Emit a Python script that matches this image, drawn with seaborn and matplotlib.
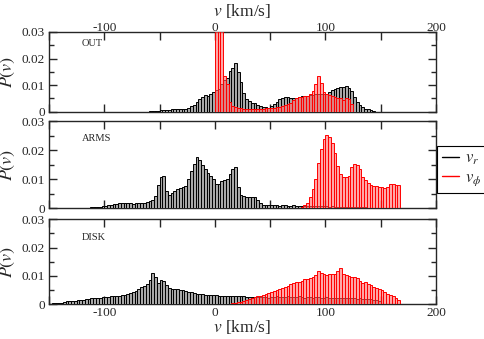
import numpy as np
import pandas as pd
import matplotlib
matplotlib.use("Agg")
import matplotlib.pyplot as plt
from matplotlib.lines import Line2D
from matplotlib.ticker import MultipleLocator, FuncFormatter
import seaborn as sns

# ---------------- data (bin width 2.5 km/s, values listed from a start velocity = left bin edge)
BIN = 2.5
panel_names = ["OUT", "ARMS", "DISK"]
legend_labels = [r"$v_r$", r"$v_\phi$"]
x_ticks = [-100, 0, 100, 200]
y_ticks = [0, 0.01, 0.02, 0.03]

vr_out_start = -60
vr_out = [0.0003, 0.0003, 0.0004, 0.0004, 0.0005, 0.0006, 0.0007, 0.0008, 0.0009, 0.0009,
          0.0010, 0.0010, 0.0011, 0.0012, 0.0015, 0.0020, 0.0027, 0.0037, 0.0048, 0.0057,
          0.0062, 0.0058, 0.0065, 0.0075, 0.0081, 0.0085, 0.0105, 0.0120, 0.0128, 0.0155,
          0.0165, 0.0184, 0.0148, 0.0112, 0.0070, 0.0048, 0.0040, 0.0034, 0.0031, 0.0027,
          0.0022, 0.0019, 0.0017, 0.0015, 0.0022, 0.0028, 0.0038, 0.0047, 0.0052, 0.0055,
          0.0055, 0.0053, 0.0051, 0.0052, 0.0056, 0.0058, 0.0058, 0.0059, 0.0061, 0.0063,
          0.0066, 0.0067, 0.0066, 0.0065, 0.0067, 0.0073, 0.0080, 0.0087, 0.0091, 0.0093,
          0.0094, 0.0095, 0.0090, 0.0078, 0.0055, 0.0035, 0.0025, 0.0017, 0.0012, 0.0009,
          0.0006, 0.0003]

vphi_out_start = 0
vphi_out = [0.060, 0.070, 0.045, 0.0135, 0.0105, 0.0035, 0.0022, 0.0018, 0.0015, 0.0013,
            0.0012, 0.0011, 0.0010, 0.0010, 0.0009, 0.0010, 0.0011, 0.0012, 0.0013, 0.0013,
            0.0014, 0.0015, 0.0016, 0.0018, 0.0022, 0.0026, 0.0030, 0.0034, 0.0043, 0.0050,
            0.0054, 0.0056, 0.0058, 0.0060, 0.0068, 0.0078, 0.0105, 0.0133, 0.0108, 0.0076,
            0.0065, 0.0063, 0.0058, 0.0057, 0.0052, 0.0050, 0.0045, 0.0050, 0.0048, 0.0030]

vr_arms_start = -115
vr_arms = [0.0002, 0.0003, 0.0004, 0.0005, 0.0006, 0.0007, 0.0009, 0.0011, 0.0013, 0.0015,
           0.0016, 0.0017, 0.0017, 0.0017, 0.0017, 0.0017, 0.0016, 0.0017, 0.0018, 0.0019,
           0.0020, 0.0022, 0.0025, 0.0030, 0.0042, 0.0082, 0.0108, 0.0110, 0.0060, 0.0045,
           0.0052, 0.0060, 0.0066, 0.0070, 0.0073, 0.0076, 0.0102, 0.0128, 0.0152, 0.0178,
           0.0168, 0.0150, 0.0135, 0.0122, 0.0110, 0.0100, 0.0085, 0.0085, 0.0093, 0.0096,
           0.0101, 0.0117, 0.0135, 0.0142, 0.0075, 0.0045, 0.0042, 0.0040, 0.0038, 0.0040,
           0.0038, 0.0030, 0.0020, 0.0013, 0.0011, 0.0010, 0.0010, 0.0010, 0.0010, 0.0009,
           0.0010, 0.0010, 0.0009, 0.0009, 0.0010, 0.0009, 0.0009, 0.0008, 0.0009, 0.0008,
           0.0008, 0.0009, 0.0008, 0.0008, 0.0007, 0.0008, 0.0007, 0.0006, 0.0007, 0.0006,
           0.0006, 0.0005, 0.0006, 0.0005, 0.0005, 0.0004, 0.0004, 0.0004, 0.0003, 0.0003,
           0.0003, 0.0002, 0.0002, 0.0001]

vphi_arms_start = 75
vphi_arms = [0.0002, 0.0005, 0.0010, 0.0020, 0.0040, 0.0065, 0.0100, 0.0155, 0.0205, 0.0240,
             0.0252, 0.0245, 0.0225, 0.0190, 0.0145, 0.0120, 0.0108, 0.0107, 0.0112, 0.0142,
             0.0153, 0.0150, 0.0135, 0.0108, 0.0098, 0.0088, 0.0080, 0.0078, 0.0078, 0.0072,
             0.0072, 0.0070, 0.0072, 0.0083, 0.0083, 0.0082, 0.0082]

vr_disk_start = -150
vr_disk = [0.0002, 0.0003, 0.0004, 0.0005, 0.0006, 0.0008, 0.0010, 0.0012, 0.0013, 0.0013,
           0.0014, 0.0015, 0.0015, 0.0018, 0.0018, 0.0022, 0.0024, 0.0024, 0.0024, 0.0026,
           0.0027, 0.0026, 0.0028, 0.0030, 0.0030, 0.0031, 0.0033, 0.0034, 0.0036, 0.0040,
           0.0045, 0.0048, 0.0053, 0.0060, 0.0066, 0.0072, 0.0086, 0.0109, 0.0098, 0.0075,
           0.0087, 0.0081, 0.0069, 0.0058, 0.0054, 0.0054, 0.0055, 0.0052, 0.0050, 0.0048,
           0.0045, 0.0042, 0.0040, 0.0038, 0.0036, 0.0035, 0.0034, 0.0033, 0.0032, 0.0033,
           0.0032, 0.0031, 0.0030, 0.0031, 0.0030, 0.0029, 0.0030, 0.0031, 0.0030, 0.0029,
           0.0028, 0.0027, 0.0027, 0.0026, 0.0027, 0.0026, 0.0027, 0.0025, 0.0026, 0.0024,
           0.0026, 0.0027, 0.0028, 0.0026, 0.0025, 0.0027, 0.0029, 0.0026, 0.0025, 0.0026,
           0.0028, 0.0026, 0.0024, 0.0025, 0.0026, 0.0024, 0.0025, 0.0026, 0.0024, 0.0023,
           0.0025, 0.0024, 0.0023, 0.0024, 0.0023, 0.0022, 0.0023, 0.0022, 0.0021, 0.0022,
           0.0021, 0.0020, 0.0021, 0.0020, 0.0019, 0.0018, 0.0017, 0.0016, 0.0015, 0.0013]

vphi_disk_start = 15
vphi_disk = [0.0003, 0.0005, 0.0007, 0.0009, 0.0012, 0.0015, 0.0018, 0.0021, 0.0025, 0.0028,
             0.0031, 0.0034, 0.0037, 0.0040, 0.0043, 0.0047, 0.0051, 0.0055, 0.0058, 0.0061,
             0.0066, 0.0070, 0.0074, 0.0077, 0.0079, 0.0082, 0.0088, 0.0091, 0.0093, 0.0096,
             0.0104, 0.0116, 0.0110, 0.0106, 0.0105, 0.0106, 0.0106, 0.0108, 0.0118, 0.0127,
             0.0108, 0.0102, 0.0100, 0.0098, 0.0096, 0.0093, 0.0082, 0.0074, 0.0080, 0.0073,
             0.0067, 0.0062, 0.0057, 0.0053, 0.0049, 0.0045, 0.0037, 0.0033, 0.0028, 0.0024,
             0.0015]

panels = [
    (vr_out_start, vr_out, vphi_out_start, vphi_out),
    (vr_arms_start, vr_arms, vphi_arms_start, vphi_arms),
    (vr_disk_start, vr_disk, vphi_disk_start, vphi_disk),
]

# ---------------- style
sns.set_style("ticks")
plt.rcParams["font.family"] = ["Liberation Serif", "DejaVu Serif"]
plt.rcParams["mathtext.fontset"] = "stix"
plt.rcParams["axes.unicode_minus"] = False
plt.rcParams["axes.linewidth"] = 1.0

W, H = 485, 339
fig = plt.figure(figsize=(W / 100, H / 100), dpi=100)

left_px, right_px = 49, 436
rows_px = [(32, 111.7), (121.3, 208.3), (219.3, 304.3)]

XMIN, XMAX = -150, 200
BLACK_FACE = "#a8a8a8"
RED_FACE = (1.0, 0.42, 0.42, 0.6)


def hist_frame(start, vals):
    vals = np.asarray(vals, dtype=float)
    centers = start + BIN / 2 + BIN * np.arange(len(vals))
    return pd.DataFrame({"v": centers, "w": vals})


axes = []
for i, (rstart, rvals, pstart, pvals) in enumerate(panels):
    top, bot = rows_px[i]
    ax = fig.add_axes([left_px / W, 1 - bot / H, (right_px - left_px) / W, (bot - top) / H])
    axes.append(ax)

    # v_r histogram
    df_r = hist_frame(rstart, rvals)
    sns.histplot(data=df_r, x="v", weights="w", binwidth=BIN,
                 binrange=(rstart, rstart + BIN * len(rvals)),
                 ax=ax, element="bars", stat="count", facecolor=BLACK_FACE,
                 edgecolor="black", linewidth=0.7, zorder=3)

    # v_phi histogram (range 0..200; empty bins drawn as a flat line)
    nfull = int(round(XMAX / BIN))
    full_vals = np.zeros(nfull)
    k0 = int(round(pstart / BIN))
    full_vals[k0:k0 + len(pvals)] = pvals
    df_p = hist_frame(0, full_vals)
    sns.histplot(data=df_p, x="v", weights="w", binwidth=BIN, binrange=(0, XMAX),
                 ax=ax, element="bars", stat="count", facecolor=RED_FACE,
                 edgecolor="red", linewidth=0.7, zorder=4)

    ax.set_xlim(XMIN, XMAX)
    ax.set_ylim(0, 0.03)
    ax.set_yticks(y_ticks)
    ax.yaxis.set_minor_locator(MultipleLocator(0.005))
    ax.yaxis.set_major_formatter(FuncFormatter(lambda v, p: "0" if abs(v) < 1e-9 else f"{v:.2f}"))
    ax.set_xticks(x_ticks)
    ax.xaxis.set_minor_locator(MultipleLocator(50))
    ax.tick_params(which="both", direction="in", top=True, right=True, width=1.0,
                   labelsize=9.5, pad=3)
    ax.tick_params(which="major", length=6)
    ax.tick_params(axis="y", which="minor", length=3.5)
    ax.tick_params(axis="x", which="minor", length=6)
    ax.set_ylabel(r"$P(v)$", fontsize=13)
    ax.yaxis.set_label_coords(-0.082, 0.5)
    ax.set_xlabel("")
    for s in ax.spines.values():
        s.set_zorder(2.5)
        s.set_linewidth(1.0)

    ylab = {0: 0.85, 1: 0.80, 2: 0.79}[i]
    ax.text(0.085, ylab, panel_names[i], transform=ax.transAxes, fontsize=7.5,
            ha="left", va="center")

# top panel: tick labels and axis label on top
axes[0].tick_params(axis="x", which="major", labeltop=True, labelbottom=False, pad=-1.5)
axes[0].xaxis.set_label_position("top")
axes[0].set_xlabel(r"$v$ [km/s]", fontsize=12.5)
top_h = rows_px[0][1] - rows_px[0][0]
axes[0].xaxis.set_label_coords(0.5, (rows_px[0][1] - 16) / top_h)
axes[1].tick_params(labelbottom=False)
axes[2].tick_params(axis="x", pad=2)
axes[2].set_xlabel(r"$v$ [km/s]", fontsize=12.5, labelpad=-1)

handles = [Line2D([0], [0], color="black", lw=1.0), Line2D([0], [0], color="red", lw=1.0)]
leg = fig.legend(handles, legend_labels, loc="upper left",
                 bbox_to_anchor=(437 / W, 1 - 146 / H), frameon=True, fancybox=False,
                 edgecolor="black", framealpha=1, fontsize=12, handlelength=1.0,
                 handletextpad=0.4, borderpad=0.3, labelspacing=0.15, borderaxespad=0)
leg.get_frame().set_linewidth(0.8)

fig.savefig("out.png", dpi=100)
